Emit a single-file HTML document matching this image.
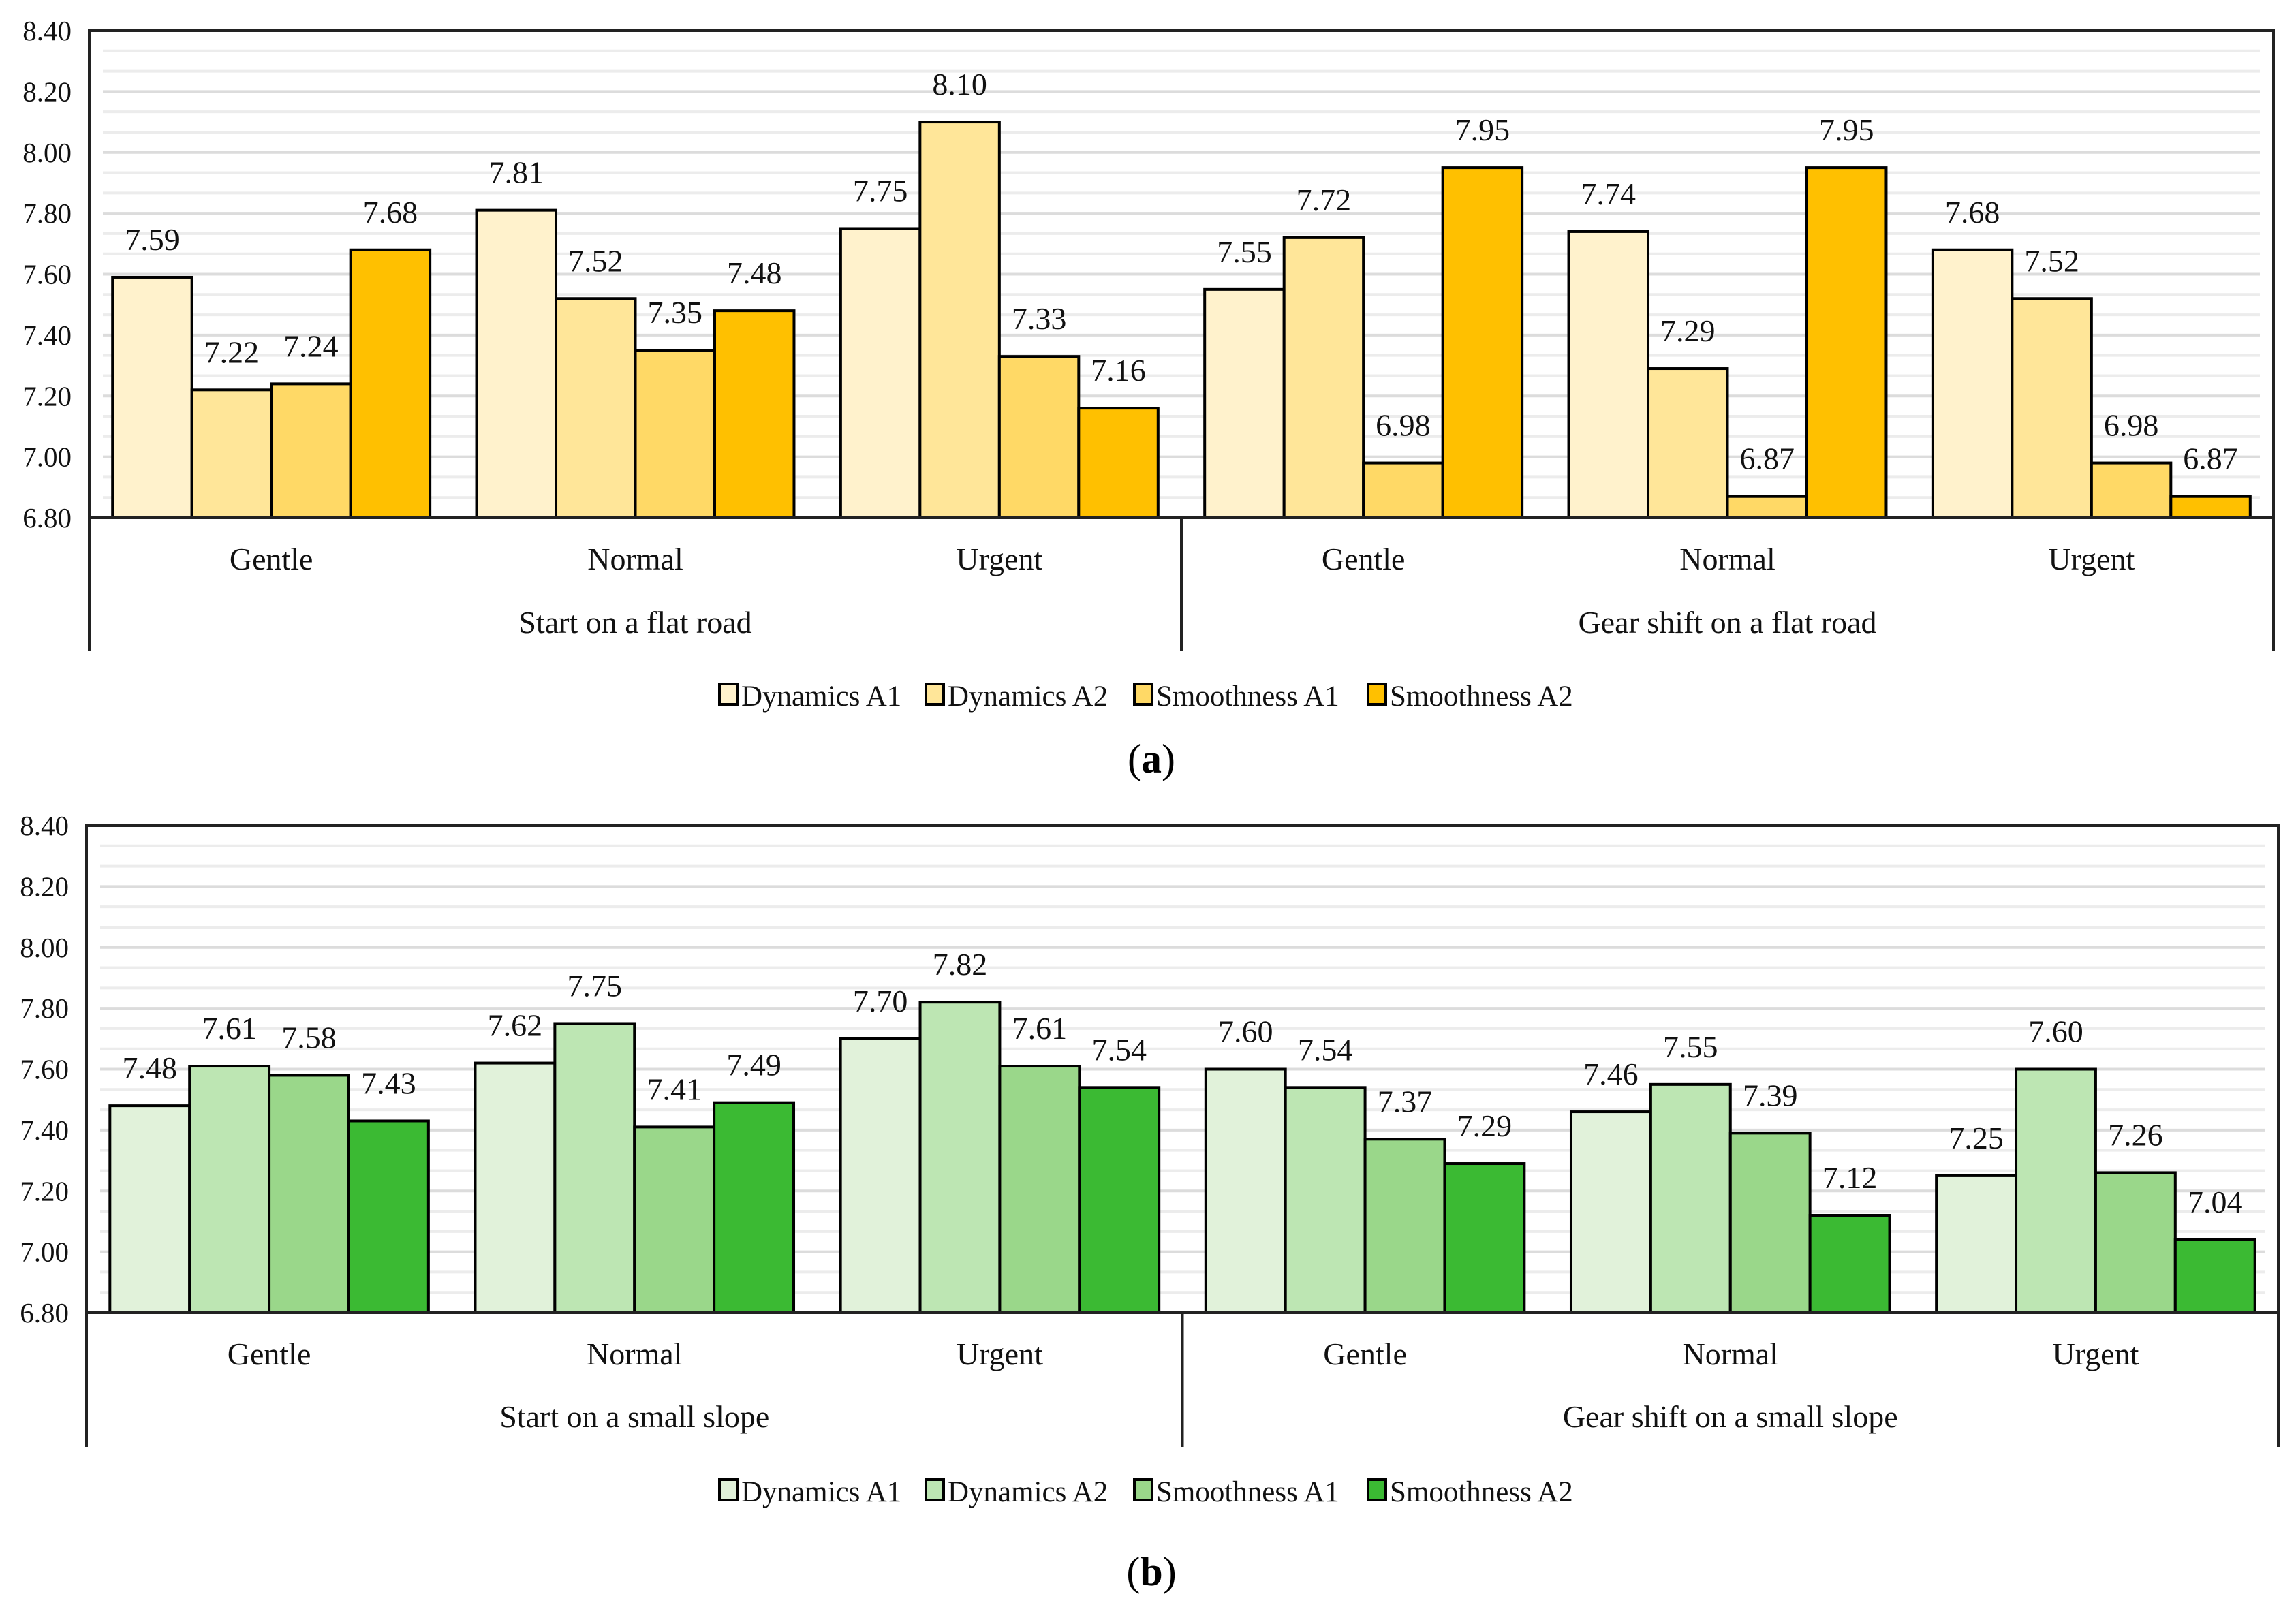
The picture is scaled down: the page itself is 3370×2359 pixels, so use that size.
<!DOCTYPE html>
<html><head><meta charset="utf-8">
<style>
html,body{margin:0;padding:0;background:#fff;}
svg, svg text{font-family:"Liberation Serif","Times New Roman",serif;}
</style></head>
<body>
<svg id="svg" width="3370" height="2354" viewBox="0 0 3370 2354" xmlns="http://www.w3.org/2000/svg" font-family="Liberation Serif, serif"></svg>
<script>
const categories = ["Gentle","Normal","Urgent","Gentle","Normal","Urgent"];
const seriesNames = ["Dynamics A1","Dynamics A2","Smoothness A1","Smoothness A2"];
const groupsA = ["Start on a flat road","Gear shift on a flat road"];
const groupsB = ["Start on a small slope","Gear shift on a small slope"];
const dynA1a = [7.59,7.81,7.75,7.55,7.74,7.68];
const dynA2a = [7.22,7.52,8.10,7.72,7.29,7.52];
const smoA1a = [7.24,7.35,7.33,6.98,6.87,6.98];
const smoA2a = [7.68,7.48,7.16,7.95,7.95,6.87];
const dynA1b = [7.48,7.62,7.70,7.60,7.46,7.25];
const dynA2b = [7.61,7.75,7.82,7.54,7.55,7.60];
const smoA1b = [7.58,7.41,7.61,7.37,7.39,7.26];
const smoA2b = [7.43,7.49,7.54,7.29,7.12,7.04];
const yTicks = [6.80,7.00,7.20,7.40,7.60,7.80,8.00,8.20,8.40];
const yellow = ["#FFF2CC","#FFE699","#FFD966","#FFC000"];
const green = ["#E1F2DA","#BDE6B3","#9AD78A","#3BBA33"];

const NS="http://www.w3.org/2000/svg";
const svg=document.getElementById('svg');
const FF='"Liberation Serif", serif';
function mk(tag,attrs,parent,text){const e=document.createElementNS(NS,tag);for(const k in attrs)e.setAttribute(k,attrs[k]);if(tag==='text')e.style.fontFamily=FF;if(text!==undefined)e.textContent=text;(parent||svg).appendChild(e);return e;}

function chart(cfg){
  const g=mk('g',{});
  
  
  const L=cfg.left,R=cfg.right,T=cfg.top,B=cfg.bottom;
  const ymin=yTicks[0],ymax=yTicks[yTicks.length-1];
  const y=v=>B-(v-ymin)/(ymax-ymin)*(B-T);
  for(let i=0;i<yTicks.length-1;i++){
    for(let j=0;j<3;j++){
      const v=yTicks[i]+(yTicks[i+1]-yTicks[i])*j/3;
      if(i===0&&j===0)continue;
      const gl=mk('line',{x1:L+20,x2:R-20,y1:y(v),y2:y(v),stroke:j===0?'#dcdcdc':'#ececec','stroke-width':4},g);
      
      
    }
  }
  yTicks.forEach(v=>{
    const t=mk('text',{x:L-26,y:y(v)+14,'text-anchor':'end','font-size':41,fill:'#111'},g,v.toFixed(2));
    
    
  });
  const cw=(R-L)/categories.length;
  const bw=cw*0.218;
  const series=cfg.series;
  categories.forEach((c,ci)=>{
    const x0=L+ci*cw+(cw-4*bw)/2;
    series.forEach((arr,si)=>{
      const v=arr[ci];
      const r=mk('rect',{x:x0+si*bw,y:y(v),width:bw,height:B-y(v),fill:cfg.colors[si],stroke:'#000','stroke-width':4},g);
      
      
      const t=mk('text',{x:x0+si*bw+bw/2,y:y(v)-40,'text-anchor':'middle','font-size':46,fill:'#111'},g,v.toFixed(2));
      
      
    });
    const ct=mk('text',{x:L+ci*cw+cw/2,y:cfg.catY,'text-anchor':'middle','font-size':46,fill:'#111'},g,c);
    
    
  });
  const fr=mk('rect',{x:L,y:T,width:R-L,height:B-T,fill:'none',stroke:'#222','stroke-width':4},g);
  
  
  const mid=L+(R-L)/2;
  [L,mid,R].forEach(xx=>{
    const ln=mk('line',{x1:xx,x2:xx,y1:B,y2:cfg.divBottom,stroke:'#222','stroke-width':4},g);
    
    
  });
  cfg.groups.forEach((gn,gi)=>{
    const t=mk('text',{x:L+(gi+0.5)*(R-L)/2,y:cfg.grpY,'text-anchor':'middle','font-size':46,fill:'#111'},g,gn);
    
    
  });
  const lg=mk('g',{},g);
  
  
  const widths=[303,306,343,320];
  let lx=1056;
  seriesNames.forEach((n,si)=>{
    const r=mk('rect',{x:lx,y:cfg.legY-32,width:26,height:30,fill:cfg.colors[si],stroke:'#000','stroke-width':4},lg);
    
    
    const t=mk('text',{x:lx+32,y:cfg.legY,'font-size':43,fill:'#111'},lg,n);
    
    
    lx+=widths[si];
  });
  const cap=mk('text',{x:1690,y:cfg.capY,'text-anchor':'middle','font-size':60,fill:'#000'},g);
  
  
  mk('tspan',{},cap,'(');
  mk('tspan',{'font-weight':'bold'},cap,cfg.cap);
  mk('tspan',{},cap,')');
}

chart({name:'chart-a',left:131,right:3337,top:45,bottom:760,catY:836,grpY:929,divBottom:955,legY:1036,capY:1134,cap:'a',
  series:[dynA1a,dynA2a,smoA1a,smoA2a],colors:yellow,groups:groupsA});
chart({name:'chart-b',left:127,right:3344,top:1212,bottom:1927,catY:2003,grpY:2095,divBottom:2124,legY:2204,capY:2327,cap:'b',
  series:[dynA1b,dynA2b,smoA1b,smoA2b],colors:green,groups:groupsB});
</script>
</body></html>
